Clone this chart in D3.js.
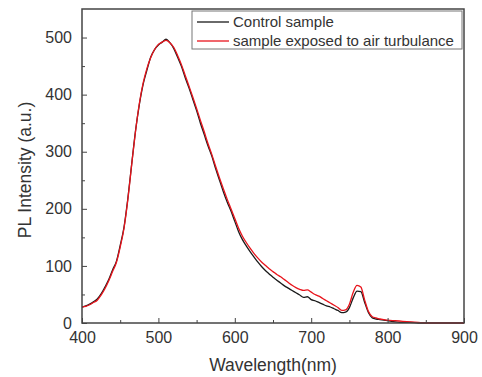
<!DOCTYPE html>
<html>
<head>
<meta charset="utf-8">
<script src="https://cdn.jsdelivr.net/npm/d3@7"></script>
<style>
  body { margin: 0; background: #fff; }
  text { font-family: "Liberation Sans", Arial, sans-serif; fill: #333; }
</style>
</head>
<body>
<div class="graph"></div>
<script>
// wavelength (nm)
const wavelength = [400,405,410,415,420,425,430,435,440,445,450,455,460,465,470,475,480,485,490,495,
  500,505,510,515,520,525,530,535,540,545,550,555,560,565,570,575,580,585,590,595,
  600,605,610,615,620,625,630,635,640,645,650,655,660,665,670,675,680,685,690,695,
  700,705,710,715,720,725,730,735,740,745,750,755,760,765,770,775,780,785,790,795,
  800,810,820,830,840,850,860,870,880,890,900];

const control = [28,30,33,37,42,51,63,76,93,108,136,168,218,278,336,382,418,443,466,479,
  487,492,497,491,481,466,450,430,412,392,372,350,330,310,292,270,250,230,212,196,
  178,160,146,135,125,116,107,99,92,86,80,75,70,65,61,57,53,49,45,46,
  41,39,36,33,30,28,25,22,18,19,27,44,56,55,36,18,9,7,6,5,
  4,2,1,1,0,0,0,0,0,0,0];

const exposed = [28,29,32,36,40,49,60,74,90,106,133,166,216,277,335,384,420,446,465,479,
  488,492,495,491,483,469,453,434,415,396,376,355,335,314,295,274,254,235,217,200,
  183,166,152,141,131,122,114,107,101,95,90,85,81,76,71,66,62,59,57,58,
  54,50,47,43,39,35,31,27,22,23,33,54,66,63,40,20,11,9,7,6,
  5,4,3,2,1,0,0,0,0,0,0];

const seriesNames = ["Control sample", "sample exposed to air turbulance"];
const seriesColors = ["#1a1a1a", "#e8141c"];
const xTicks = [400, 500, 600, 700, 800, 900];
const yTicks = [0, 100, 200, 300, 400, 500];

const W = 482, H = 377;
const margin = { top: 9, right: 18, bottom: 54, left: 82 };
const width = W - margin.left - margin.right;
const height = H - margin.top - margin.bottom;

const svg = d3.select('.graph').append('svg')
  .attr('width', W)
  .attr('height', H);

const g = svg.append('g')
  .attr('transform', `translate(${margin.left},${margin.top})`);

const x = d3.scaleLinear().domain([400, 900]).range([0, width]);
const y = d3.scaleLinear().domain([0, 550]).range([height, 0]);

// curves
const line = d3.line()
  .x((d, i) => x(wavelength[i]))
  .y(d => y(d))
  .curve(d3.curveMonotoneX);

[control, exposed].forEach((vals, k) => {
  g.append('path')
    .datum(vals)
    .attr('fill', 'none')
    .attr('stroke', seriesColors[k])
    .attr('stroke-width', 1.3)
    .attr('stroke-linejoin', 'round')
    .attr('d', line);
});

// minor ticks (inward)
g.append('g')
  .attr('transform', `translate(0,${height})`)
  .call(d3.axisBottom(x).tickValues([450, 550, 650, 750, 850]).tickSize(-3).tickFormat(''))
  .call(a => a.select('.domain').remove())
  .selectAll('line').attr('stroke', '#444');
g.append('g')
  .call(d3.axisLeft(y).tickValues([50, 150, 250, 350, 450]).tickSize(-3).tickFormat(''))
  .call(a => a.select('.domain').remove())
  .selectAll('line').attr('stroke', '#444');

// major ticks
const xAxis = g.append('g')
  .attr('transform', `translate(0,${height})`)
  .call(d3.axisBottom(x).tickValues(xTicks).tickSizeInner(-5).tickSizeOuter(0).tickPadding(9));
const yAxis = g.append('g')
  .call(d3.axisLeft(y).tickValues(yTicks).tickSizeInner(-5).tickSizeOuter(0).tickPadding(10));

[xAxis, yAxis].forEach(a => {
  a.select('.domain').remove();
  a.selectAll('line').attr('stroke', '#444');
  a.selectAll('text')
    .style('font-size', '16px')
    .style('font-family', '"Liberation Sans", Arial, sans-serif')
    .attr('fill', '#333');
});

// frame
g.append('rect')
  .attr('width', width)
  .attr('height', height)
  .attr('fill', 'none')
  .attr('stroke', '#444')
  .attr('stroke-width', 1.5);

// axis titles
svg.append('text')
  .attr('x', margin.left + width / 2)
  .attr('y', 371)
  .attr('text-anchor', 'middle')
  .style('font-size', '17.5px')
  .text('Wavelength(nm)');

svg.append('text')
  .attr('transform', `translate(31,${margin.top + height / 2 + 4}) rotate(-90)`)
  .attr('text-anchor', 'middle')
  .style('font-size', '17.5px')
  .text('PL Intensity (a.u.)');

// legend
const legend = svg.append('g').attr('transform', 'translate(192,11)');
legend.append('rect')
  .attr('width', 270)
  .attr('height', 38)
  .attr('fill', '#fff')
  .attr('stroke', '#777')
  .attr('stroke-width', 1);

seriesNames.forEach((name, k) => {
  const yy = 11 + k * 19;
  legend.append('line')
    .attr('x1', 5).attr('x2', 37)
    .attr('y1', yy).attr('y2', yy)
    .attr('stroke', seriesColors[k])
    .attr('stroke-width', 1.3);
  legend.append('text')
    .attr('x', 41)
    .attr('y', yy + 5)
    .style('font-size', '15px')
    .text(name);
});
</script>
</body>
</html>
